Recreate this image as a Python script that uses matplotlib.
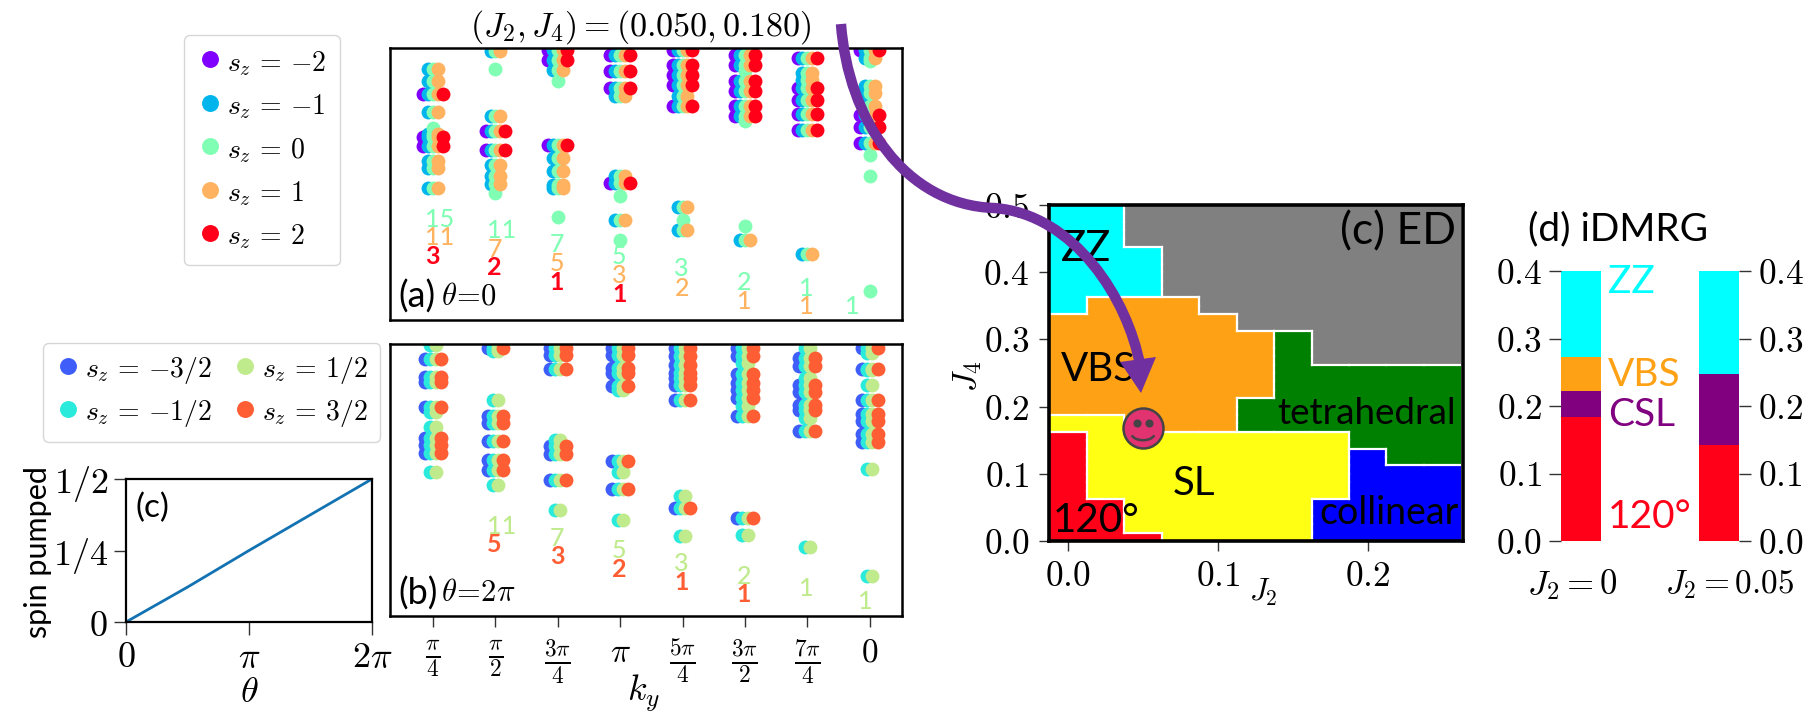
import numpy as np
import matplotlib
matplotlib.use("Agg")
import matplotlib.pyplot as plt
from matplotlib.path import Path
from matplotlib.patches import PathPatch, Polygon, Arc

plt.rcParams['mathtext.fontset'] = 'cm'
plt.rcParams['font.family'] = ['Lato', 'DejaVu Sans']

W, H = 1813, 712

# ---------------- spectrum data (level positions, multiplet type) ----------------
ky_ticks = [r'$\frac{\pi}{4}$', r'$\frac{\pi}{2}$', r'$\frac{3\pi}{4}$', r'$\pi$',
            r'$\frac{5\pi}{4}$', r'$\frac{3\pi}{2}$', r'$\frac{7\pi}{4}$', r'$0$']
energy_a = [
    [207, 245, 282, 337, 385, 403, 412, 438, 485, 505, 566],
    [155, 207, 350, 395, 450, 495, 530, 552, 580],
    [150, 182, 212, 245, 437, 475, 515, 555, 565, 653],
    [165, 215, 265, 290, 528, 550, 588, 660, 720],
    [150, 195, 225, 255, 290, 320, 622, 660, 690],
    [165, 195, 215, 245, 275, 318, 348, 365, 680, 720],
    [175, 220, 240, 265, 300, 343, 392, 762],
    [150, 175, 185, 260, 280, 318, 345, 383, 430, 465, 530, 875],
]
spin_a = [
    [1, 1, 2, 1, 0, 1, 2, 2, 1, 1, 1],
    [1, 0, 1, 2, 2, 1, 1, 1, 0],
    [2, 2, 1, 0, 2, 1, 1, 1, 1, 0],
    [2, 2, 2, 1, 1, 2, 0, 1, 0],
    [2, 2, 2, 2, 1, 2, 1, 0, 1],
    [2, 2, 0, 2, 2, 2, 2, 0, 0, 1],
    [2, 1, 1, 2, 2, 2, 2, 1],
    [2, 1, 0, 1, 1, 1, 2, 2, 2, 0, 0, 0],
]
energy_b = [
    [30, 72, 128, 142, 218, 232, 278, 310, 330, 355, 412],
    [40, 50, 195, 243, 265, 320, 375, 405, 450],
    [40, 60, 104, 315, 335, 358, 436, 526],
    [40, 62, 100, 115, 153, 165, 379, 412, 462, 555],
    [40, 65, 90, 115, 130, 152, 195, 485, 520, 604],
    [40, 65, 85, 118, 145, 165, 190, 215, 245, 551, 600],
    [40, 70, 95, 130, 150, 172, 210, 225, 250, 290, 637],
    [40, 55, 103, 105, 150, 195, 238, 258, 297, 322, 403, 725],
]
spin_b = [
    [1, 3, 3, 3, 3, 1, 1, 3, 3, 3, 1],
    [3, 1, 1, 3, 3, 3, 3, 3, 1],
    [3, 3, 3, 1, 3, 3, 3, 1],
    [3, 3, 3, 3, 3, 1, 3, 1, 3, 1],
    [3, 3, 3, 3, 3, 3, 3, 1, 3, 1],
    [3, 3, 1, 3, 3, 3, 3, 1, 3, 3, 1],
    [1, 3, 3, 1, 3, 3, 3, 3, 1, 3, 1],
    [3, 1, 3, 1, 1, 3, 3, 3, 3, 3, 1, 1],
]
# degeneracy count labels: k, level, text, sector
count_k_a = [1, 1, 1, 2, 2, 2, 3, 3, 3, 4, 4, 4, 5, 5, 6, 6, 7, 7, 7.74]
count_y_a = [660, 715, 770, 692, 750, 805, 735, 792, 848, 772, 828, 885, 808, 866, 848, 905, 866, 922, 922]
count_t_a = ['15', '11', '3', '11', '7', '2', '7', '5', '1', '5', '3', '1', '3', '2', '2', '1', '1', '1', '1']
count_c_a = [0, 1, 2, 0, 1, 2, 0, 1, 2, 0, 1, 2, 0, 1, 0, 1, 0, 1, 0]
count_k_b = [2, 2, 3, 3, 4, 4, 5, 5, 6, 6, 7, 7.94]
count_y_b = [575, 630, 610, 665, 648, 705, 687, 743, 725, 780, 762, 800]
count_t_b = ['11', '5', '7', '3', '5', '2', '3', '1', '2', '1', '1', '1']
count_c_b = [1, 3, 1, 3, 1, 3, 1, 3, 1, 3, 1, 1]

int_colors = {-2: '#8000ff', -1: '#00b5eb', 0: '#80ffb4', 1: '#ffb360', 2: '#ff0018'}
half_colors = {-3: '#3f5ef9', -1: '#2aeadc', 1: '#c0eb8d', 3: '#ff5d33'}
count_colors_a = {0: '#80ffb4', 1: '#ffb360', 2: '#ff0018'}
count_colors_b = {1: '#c0eb8d', 3: '#ff5d33'}

# ---------------- phase diagram data: per J2 column, upper edge of each phase ----------------
j2_edges = [-0.0125, 0.0125, 0.0375, 0.0625, 0.0875, 0.1125, 0.1375, 0.1625, 0.1875, 0.2125, 0.2375, 0.2625]
phase_names = ['120', 'SL', 'VBS', 'ZZ', 'gray', 'tetra', 'coll']
phase_colors = ['#ff0018', '#ffff14', '#ffa115', '#00ffff', '#808080', '#008000', '#0000ff']
col_phases = [
    [0, 1, 2, 3], [0, 1, 2, 3], [0, 1, 2, 3, 4], [1, 2, 4], [1, 2, 4],
    [1, 5, 2, 4], [1, 5, 4], [6, 1, 5, 4], [6, 5, 4], [6, 5, 4], [6, 5, 4],
]
col_tops = [
    [0.1625, 0.1875, 0.3375, 0.5], [0.0625, 0.1875, 0.3625, 0.5], [0.0125, 0.1625, 0.3625, 0.4375, 0.5],
    [0.1625, 0.3625, 0.5], [0.1625, 0.3375, 0.5], [0.1625, 0.2125, 0.3125, 0.5],
    [0.1625, 0.3125, 0.5], [0.0625, 0.1625, 0.2625, 0.5], [0.1375, 0.2625, 0.5],
    [0.1125, 0.2625, 0.5], [0.1125, 0.2625, 0.5],
]
j4_edges = np.arange(0, 0.5001, 0.0125)

# iDMRG bars
bar_colors = {'120': '#ff0018', 'CSL': '#800080', 'VBS': '#ffa115', 'ZZ': '#00ffff'}
bar0_names = ['120', 'CSL', 'VBS', 'ZZ']
bar0_tops = [0.183, 0.222, 0.272, 0.4]
bar1_names = ['120', 'CSL', 'ZZ']
bar1_tops = [0.142, 0.248, 0.4]

# spin pump
theta = [0, 0.5 * np.pi, np.pi, 1.5 * np.pi, 2 * np.pi]
pumped = [0, 0.122, 0.25, 0.375, 0.5]

# ---------------- figure ----------------
fig = plt.figure(figsize=(W / 100, H / 100), dpi=100, facecolor='white')


def axpx(x0, y0, x1, y1):
    return fig.add_axes([x0 / W, 1 - y1 / H, (x1 - x0) / W, (y1 - y0) / H])


def fx(x):
    return x / W


def fy(y):
    return 1 - y / H


def spectrum(ax, energy, spin, colors, step, ys, marker_s):
    handles = {}
    for sz in sorted(colors):
        xs, es = [], []
        for k, (elist, slist) in enumerate(zip(energy, spin), start=1):
            for e, s in zip(elist, slist):
                if abs(sz) <= s:
                    xs.append(k + sz * step)
                    es.append(e)
        handles[sz] = ax.scatter(xs, es, s=marker_s, color=colors[sz], linewidths=0, zorder=2 + sz * 0.1)
    ax.set_xlim(0.311, 8.51)
    ax.set_ylim(*ys)
    for sp in ax.spines.values():
        sp.set_linewidth(1.8)
    return handles


ax_a = axpx(390, 48, 901.5, 319.5)
h_a = spectrum(ax_a, energy_a, spin_a, int_colors, 0.078, (960, 145), 100)
ax_a.set_xticks([])
ax_a.set_yticks([])
for k, y, t, c in zip(count_k_a, count_y_a, count_t_a, count_c_a):
    ax_a.text(k - 0.13, y, t, color=count_colors_a[c], fontsize=18, ha='left', va='center',
              fontweight='bold' if c == 2 else 'medium')
ax_a.text(0.44, 890, '(a)', fontsize=26, ha='left', va='center')
ax_a.text(1.13, 888, r'$\theta\!=\!0$', fontsize=22, ha='left', va='center')

ax_b = axpx(390, 344, 901.5, 615.5)
h_b = spectrum(ax_b, energy_b, spin_b, half_colors, 0.042, (842, 28), 100)
ax_b.set_xticks(range(1, 9))
ax_b.set_xticklabels(ky_ticks, fontsize=24)
ax_b.tick_params(axis='x', length=8, width=1, pad=8, color='#333333')
ax_b.set_yticks([])
for k, y, t, c in zip(count_k_b, count_y_b, count_t_b, count_c_b):
    ax_b.text(k - 0.13, y, t, color=count_colors_b[c], fontsize=18, ha='left', va='center',
              fontweight='bold' if c == 3 else 'medium')
ax_b.text(0.44, 775, '(b)', fontsize=26, ha='left', va='center')
ax_b.text(1.13, 773, r'$\theta\!=\!2\pi$', fontsize=22, ha='left', va='center')

fig.text(fx(644), fy(693), r'$k_y$', fontsize=26, ha='center', va='center')
fig.text(fx(641), fy(27), r'$(J_2,J_4)=(0.050,0.180)$', fontsize=24.5, ha='center', va='center')

# legends
leg1 = fig.legend([h_a[k] for k in sorted(h_a)],
                  [r'$s_z\,=\,{-}2$', r'$s_z\,=\,{-}1$', r'$s_z\,=\,0$', r'$s_z\,=\,1$', r'$s_z\,=\,2$'],
                  loc='upper left', bbox_to_anchor=(fx(184), fy(35)), fontsize=20, borderaxespad=0,
                  labelspacing=0.53, handletextpad=0.18, borderpad=0.5, handlelength=0.86,
                  markerscale=1.22, scatteryoffsets=[0.6])
leg2 = fig.legend([h_b[k] for k in sorted(h_b)],
                  [r'$s_z\,=\,{-}3/2$', r'$s_z\,=\,{-}1/2$', r'$s_z\,=\,1/2$', r'$s_z\,=\,3/2$'], ncol=2,
                  loc='upper left', bbox_to_anchor=(fx(43), fy(343)), fontsize=20, borderaxespad=0,
                  labelspacing=0.43, handletextpad=0.16, borderpad=0.45, handlelength=0.9, columnspacing=0.74,
                  markerscale=1.22, scatteryoffsets=[0.6])

# spin pumped
ax_s = axpx(126, 479, 372, 622)
ax_s.plot(theta, pumped, color='#1272b2', lw=2)
ax_s.set_xlim(0, 2 * np.pi)
ax_s.set_ylim(0, 0.5)
ax_s.set_xticks([0, np.pi, 2 * np.pi])
ax_s.set_xticklabels([r'$0$', r'$\pi$', r'$2\pi$'], fontsize=26)
ax_s.set_yticks([0, 0.25, 0.5])
ax_s.set_yticklabels([r'$0$', r'$1/4$', r'$1/2$'], fontsize=26)
ax_s.tick_params(length=9, width=1, pad=4, color='#333333')
for sp in ax_s.spines.values():
    sp.set_linewidth(1.6)
ax_s.text(0.04, 0.8, '(c)', transform=ax_s.transAxes, fontsize=24, va='center')
fig.text(fx(249), fy(692), r'$\theta$', fontsize=26, ha='center', va='center')
fig.text(fx(38), fy(552), 'spin pumped', fontsize=22, rotation=90, ha='center', va='center')

# phase diagram
ax_c = axpx(1049, 205, 1462.5, 541)
grid = np.zeros((len(j4_edges) - 1, len(j2_edges) - 1), dtype=int)
centers = 0.5 * (j4_edges[1:] + j4_edges[:-1])
for c, (names, tops) in enumerate(zip(col_phases, col_tops)):
    for r, y in enumerate(centers):
        grid[r, c] = names[int(np.searchsorted(tops, y))]
cmap = matplotlib.colors.ListedColormap(phase_colors)
ax_c.pcolormesh(j2_edges, j4_edges, grid, cmap=cmap, vmin=-0.5, vmax=6.5)
for r in range(grid.shape[0]):
    for c in range(grid.shape[1]):
        if c + 1 < grid.shape[1] and grid[r, c] != grid[r, c + 1]:
            ax_c.plot([j2_edges[c + 1]] * 2, [j4_edges[r], j4_edges[r + 1]], color='white', lw=1.6, solid_capstyle='projecting')
        if r + 1 < grid.shape[0] and grid[r, c] != grid[r + 1, c]:
            ax_c.plot([j2_edges[c], j2_edges[c + 1]], [j4_edges[r + 1]] * 2, color='white', lw=1.6, solid_capstyle='projecting')
ax_c.set_xlim(-0.0128, 0.2633)
ax_c.set_ylim(0, 0.5)
ax_c.set_xticks([0, 0.1, 0.2])
ax_c.set_xticklabels([r'$0.0$', r'$0.1$', r'$0.2$'], fontsize=25.5)
ax_c.set_yticks([0, 0.1, 0.2, 0.3, 0.4, 0.5])
ax_c.set_yticklabels([r'$0.0$', r'$0.1$', r'$0.2$', r'$0.3$', r'$0.4$', r'$0.5$'], fontsize=25.5)
ax_c.tick_params(length=7.5, width=1, pad=6.5, color='#333333')
for sp in ax_c.spines.values():
    sp.set_linewidth(2.6)
phase_labels = ['ZZ', 'VBS', 'tetrahedral', 'SL', 'collinear', '120°']
phase_label_x = [-0.005, -0.005, 0.2589, 0.0695, 0.2609, -0.0105]
phase_label_y = [0.435, 0.255, 0.19, 0.086, 0.041, 0.031]
phase_label_ha = ['left', 'left', 'right', 'left', 'right', 'left']
phase_label_fs = [30, 29, 26.5, 29, 27, 29]
for t, x, y, ha, fs in zip(phase_labels, phase_label_x, phase_label_y, phase_label_ha, phase_label_fs):
    ax_c.text(x, y, t, fontsize=fs, ha=ha, va='center', color='black')
ax_c.text(0.259, 0.46, '(c) ED', fontsize=32, ha='right', va='center')
fig.text(fx(1263), fy(592), r'$J_2$', fontsize=22, ha='center', va='center')
fig.text(fx(968), fy(376), r'$J_4$', fontsize=24, rotation=90, ha='center', va='center')
# smiley at the selected coupling
sm_x, sm_y = 0.05, 0.168
ax_c.scatter([sm_x], [sm_y], s=830, facecolor='#e0336f', edgecolor='#444444', linewidths=1.8, zorder=6)
ax_c.scatter([sm_x - 0.004, sm_x + 0.004], [sm_y + 0.008, sm_y + 0.008], s=23, color='#444444', zorder=7)
ax_c.add_patch(Arc((sm_x, sm_y - 0.008), 0.0155, 0.02, theta1=200, theta2=340, color='#444444', lw=1.8, zorder=7))

# iDMRG bars


def bar_axis(x0, x1, names, tops, side):
    ax = axpx(x0, 271, x1, 541)
    bottom = 0
    for n, t in zip(names, tops):
        ax.bar(0.5, t - bottom, width=1, bottom=bottom, color=bar_colors[n], linewidth=0)
        bottom = t
    ax.set_xlim(0, 1)
    ax.set_ylim(0, 0.4)
    ax.set_xticks([])
    ax.set_yticks([0, 0.1, 0.2, 0.3, 0.4])
    ax.set_yticklabels([r'$0.0$', r'$0.1$', r'$0.2$', r'$0.3$', r'$0.4$'], fontsize=25.5)
    ax.tick_params(axis='y', length=8.6, width=1, pad=5, color='#333333', left=side == 'left', right=side == 'right',
                   labelleft=side == 'left', labelright=side == 'right')
    for sp in ax.spines.values():
        sp.set_visible(False)
    return ax


ax_d0 = bar_axis(1561, 1601, bar0_names, bar0_tops, 'left')
ax_d1 = bar_axis(1699, 1739, bar1_names, bar1_tops, 'right')
d_labels = ['ZZ', 'VBS', 'CSL', '120°']
d_label_y = [0.384, 0.246, 0.187, 0.035]
d_label_c = ['#00ffff', '#ffa115', '#800080', '#ff0018']
for t, y, c in zip(d_labels, d_label_y, d_label_c):
    ax_d0.text(1.18, y, t, color=c, fontsize=28, ha='left', va='center', clip_on=False)
fig.text(fx(1618), fy(229), '(d) iDMRG', fontsize=28, ha='center', va='center')
fig.text(fx(1572), fy(585), r'$J_2=0$', fontsize=25, ha='center', va='center')
fig.text(fx(1730), fy(585), r'$J_2=0.05$', fontsize=24, ha='center', va='center')

# purple arrow
arrow_pts = [(841, 24), (848, 120), (905, 205), (994, 208), (1075, 214), (1128, 300), (1140, 365)]
arrow_codes = [Path.MOVETO, Path.CURVE4, Path.CURVE4, Path.CURVE4, Path.CURVE4, Path.CURVE4, Path.CURVE4]
arrow_path = Path([(fx(x), fy(y)) for x, y in arrow_pts], arrow_codes)
fig.add_artist(PathPatch(arrow_path, facecolor='none', edgecolor='#7030a0', lw=7.5, capstyle='butt',
                         transform=fig.transFigure, zorder=10))
head_pts = [(1120, 362), (1156, 357), (1141, 393)]
fig.add_artist(Polygon([(fx(x), fy(y)) for x, y in head_pts], closed=True, facecolor='#7030a0', edgecolor='none',
                       transform=fig.transFigure, zorder=10))

fig.savefig('out.png', dpi=100)
